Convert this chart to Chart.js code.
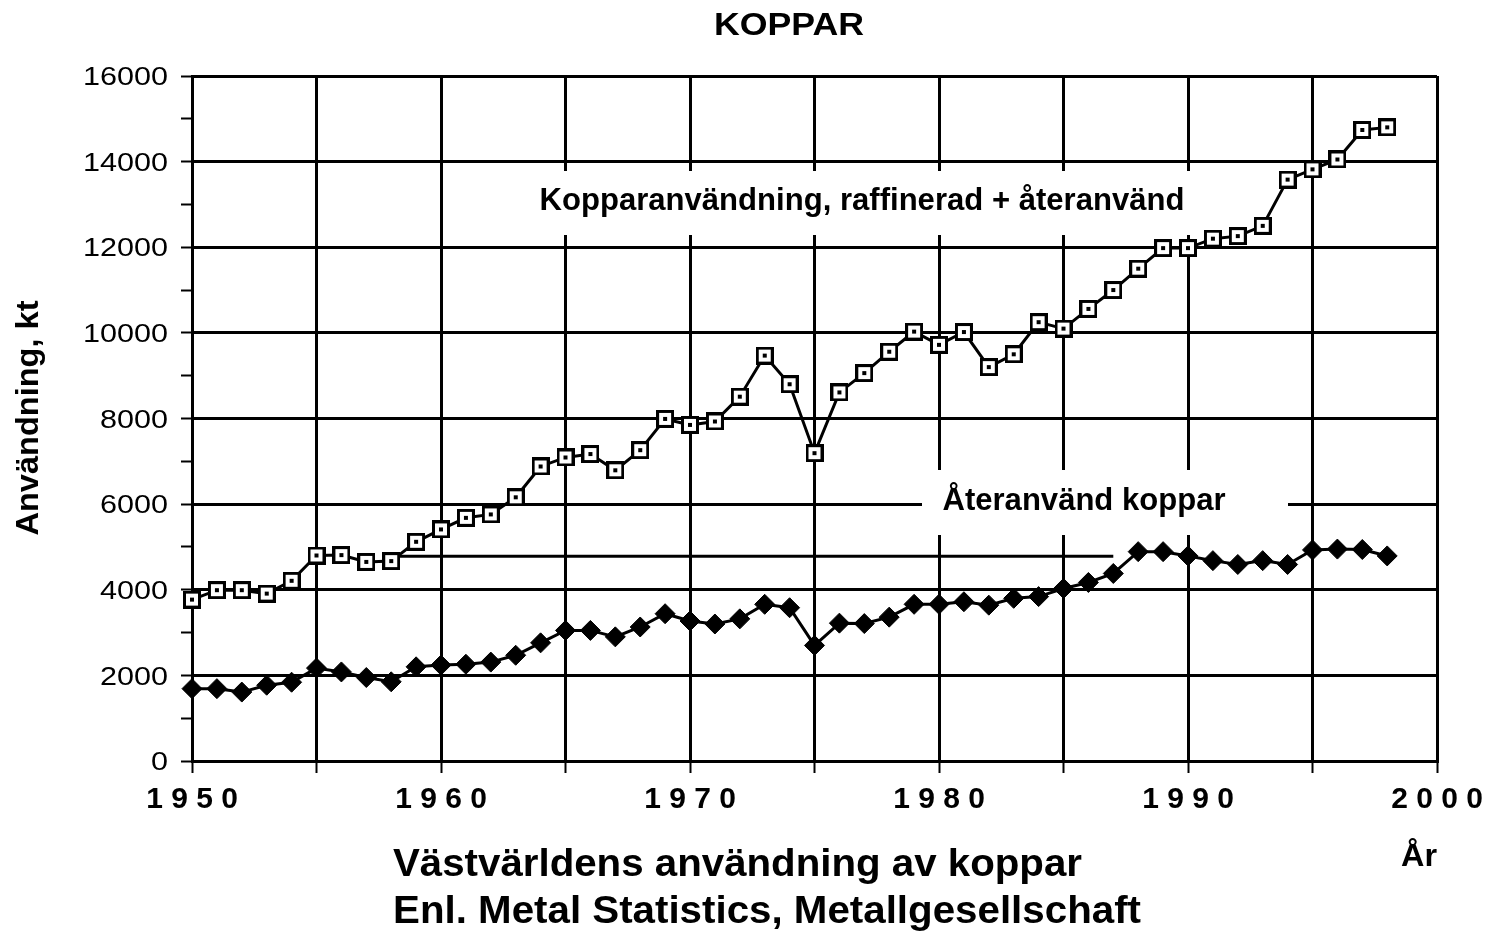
<!DOCTYPE html>
<html>
<head>
<meta charset="utf-8">
<script src="https://cdn.jsdelivr.net/npm/chart.js@4.4.0/dist/chart.umd.min.js"></script>
<style>
html,body{margin:0;padding:0;background:#fff;}
#wrap{position:relative;width:1495px;height:937px;background:#fff;}
canvas{display:block;}
</style>
</head>
<body>
<div id="wrap"><canvas id="c" width="1495" height="937"></canvas></div>
<script>
// ---- Data (kt) ----
const years = [1950,1951,1952,1953,1954,1955,1956,1957,1958,1959,
               1960,1961,1962,1963,1964,1965,1966,1967,1968,1969,
               1970,1971,1972,1973,1974,1975,1976,1977,1978,1979,
               1980,1981,1982,1983,1984,1985,1986,1987,1988,1989,
               1990,1991,1992,1993,1994,1995,1996,1997,1998];
const totalUse = [3770,3990,3990,3910,4210,4800,4810,4650,4670,5120,
                  5410,5680,5760,6160,6880,7090,7170,6790,7260,7990,
                  7850,7930,8510,9470,8800,7190,8610,9060,9560,10030,
                  9720,10020,9200,9500,10250,10100,10560,11000,11500,11980,
                  11980,12200,12260,12500,13580,13820,14050,14740,14800];
const recycledUse = [1690,1690,1610,1770,1840,2170,2080,1950,1850,2200,
                     2240,2260,2310,2470,2760,3050,3050,2900,3130,3440,
                     3270,3200,3320,3660,3580,2700,3220,3210,3360,3660,
                     3660,3720,3640,3800,3840,4030,4170,4380,4890,4890,
                     4790,4680,4590,4680,4590,4930,4950,4940,4790];
const xTickLabels = ['1950','1960','1970','1980','1990','2000'];
const yTickLabels = ['0','2000','4000','6000','8000','10000','12000','14000','16000'];
const seriesNames = ['Kopparanvändning, raffinerad + återanvänd','Återanvänd koppar'];
const chartTitle = 'KOPPAR';
const yAxisTitle = 'Användning, kt';
const xAxisUnit = 'År';
const captionLines = ['Västvärldens användning av koppar','Enl. Metal Statistics, Metallgesellschaft'];
// leader line next to the "Återanvänd koppar" label (data coords)
const leaderLine = {x0:1958.2, x1:1987.0, y:4780};

const FONT = '"Liberation Sans", Arial, sans-serif';

// open square marker with centre dot
function makeSquare(){
  const n = 18;
  const c = document.createElement('canvas');
  c.width = n; c.height = n;
  const g = c.getContext('2d');
  g.fillStyle = '#fff'; g.fillRect(0,0,n,n);
  g.strokeStyle = '#000'; g.lineWidth = 3;
  g.strokeRect(1.5,1.5,n-3,n-3);
  g.fillStyle = '#000'; g.fillRect(n/2-2,n/2-2,4,4);
  return c;
}

function fitText(ctx, text, x, y, font, width, align, rot){
  ctx.save();
  ctx.font = font;
  const w = ctx.measureText(text).width;
  const sx = width ? width / w : 1;
  ctx.translate(x, y);
  if (rot) ctx.rotate(rot);
  ctx.scale(sx, 1);
  ctx.textAlign = align || 'center';
  ctx.textBaseline = 'middle';
  ctx.fillStyle = '#000';
  ctx.fillText(text, 0, 0);
  ctx.restore();
}

const decor = {
  id: 'decor',
  beforeDatasetsDraw(chart){
    const ctx = chart.ctx, xs = chart.scales.x, ys = chart.scales.y;
    ctx.save();
    // label backgrounds interrupting grid
    ctx.fillStyle = '#fff';
    ctx.fillRect(522, 171, 676, 64);
    ctx.fillRect(922, 470, 366, 65);
    // leader line
    ctx.strokeStyle = '#000'; ctx.lineWidth = 3;
    ctx.beginPath();
    ctx.moveTo(xs.getPixelForValue(leaderLine.x0), ys.getPixelForValue(leaderLine.y));
    ctx.lineTo(xs.getPixelForValue(leaderLine.x1), ys.getPixelForValue(leaderLine.y));
    ctx.stroke();
    ctx.restore();
    fitText(ctx, seriesNames[0], 862, 201, `bold 32px ${FONT}`, 645, 'center');
    fitText(ctx, seriesNames[1], 1084, 501, `bold 31px ${FONT}`, 283, 'center');
  },
  afterDraw(chart){
    const ctx = chart.ctx, xs = chart.scales.x, ys = chart.scales.y;
    // title
    fitText(ctx, chartTitle, 789, 26, `bold 32px ${FONT}`, 150, 'center');
    // y axis title
    fitText(ctx, yAxisTitle, 29, 418, `bold 31px ${FONT}`, 235, 'center', -Math.PI/2);
    // y tick labels
    ctx.save();
    ctx.font = `26px ${FONT}`;
    const sy = 85 / ctx.measureText('16000').width;
    ctx.restore();
    yTickLabels.forEach(t => {
      const v = Number(t);
      ctx.save();
      ctx.font = `26px ${FONT}`;
      ctx.translate(168, ys.getPixelForValue(v));
      ctx.scale(sy, 1);
      ctx.textAlign = 'right'; ctx.textBaseline = 'middle';
      ctx.fillStyle = '#000';
      ctx.fillText(t, 0, 2);
      ctx.restore();
    });
    // x tick labels (letter-spaced)
    ctx.save();
    ctx.font = `bold 30px ${FONT}`;
    ctx.fillStyle = '#000';
    ctx.textAlign = 'center'; ctx.textBaseline = 'middle';
    xTickLabels.forEach(t => {
      const cx = xs.getPixelForValue(Number(t));
      const pitch = 25;
      for (let i = 0; i < t.length; i++) {
        ctx.fillText(t[i], cx + (i - (t.length - 1) / 2) * pitch, 800);
      }
    });
    ctx.restore();
    // unit
    fitText(ctx, xAxisUnit, 1419, 857, `bold 31px ${FONT}`, 36, 'center');
    // captions
    fitText(ctx, captionLines[0], 393, 866, `bold 38px ${FONT}`, 689, 'left');
    fitText(ctx, captionLines[1], 393, 913, `bold 38px ${FONT}`, 748, 'left');
  }
};

const sq = makeSquare();
new Chart(document.getElementById('c').getContext('2d'), {
  type: 'line',
  data: {
    datasets: [
      {
        label: seriesNames[0],
        data: years.map((yr, i) => ({x: yr, y: totalUse[i]})),
        borderColor: '#000', borderWidth: 3,
        pointStyle: sq, pointRadius: 9,
        tension: 0, fill: false, clip: false
      },
      {
        label: seriesNames[1],
        data: years.map((yr, i) => ({x: yr, y: recycledUse[i]})),
        borderColor: '#000', borderWidth: 3,
        backgroundColor: '#000',
        pointStyle: 'rectRot', pointRadius: 10,
        pointBackgroundColor: '#000', pointBorderColor: '#000', pointBorderWidth: 1,
        tension: 0, fill: false, clip: false
      }
    ]
  },
  options: {
    responsive: false, animation: false, devicePixelRatio: 1,
    layout: {padding: {left: 181, right: 58, top: 76, bottom: 164}},
    plugins: {legend: {display: false}, title: {display: false}, tooltip: {enabled: false}},
    scales: {
      x: {
        type: 'linear', min: 1950, max: 2000,
        ticks: {display: false, stepSize: 5},
        grid: {color: '#000', lineWidth: 3, drawTicks: true, tickLength: 12, tickColor: '#000', tickWidth: 2},
        border: {color: '#000', width: 3}
      },
      y: {
        type: 'linear', min: 0, max: 16000,
        ticks: {display: false, stepSize: 1000},
        grid: {
          color: c => (c.tick && c.tick.value % 2000 === 0) ? '#000' : 'rgba(0,0,0,0)',
          lineWidth: 3, drawTicks: true, tickLength: 11, tickColor: '#000', tickWidth: 2
        },
        border: {color: '#000', width: 3}
      }
    }
  },
  plugins: [decor]
});
</script>
</body>
</html>
